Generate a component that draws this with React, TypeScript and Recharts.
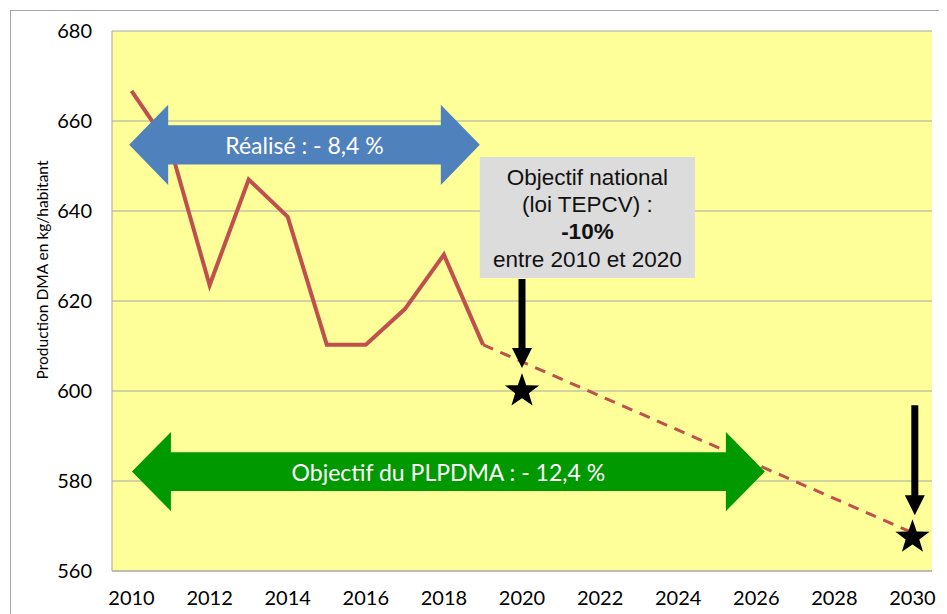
import { ComposedChart, Line, Scatter, XAxis, YAxis, CartesianGrid, ReferenceArea, ReferenceDot } from 'recharts';

// Production DMA (kg/habitant) – réalisé
const realiseYears = [2010, 2011, 2012, 2013, 2014, 2015, 2016, 2017, 2018, 2019];
const realiseValues = [666.7, 654, 623.5, 647, 638.7, 610.3, 610.3, 618.2, 630.3, 610.3];

// trajectoire vers l'objectif du PLPDMA
const projectionYears = [2019, 2030];
const projectionValues = [610.3, 568.5];

// objectifs (étoiles)
const objectifYears = [2020, 2030];
const objectifValues = [600, 567.5];

const xTicks = [2010, 2012, 2014, 2016, 2018, 2020, 2022, 2024, 2026, 2028, 2030];
const yTicks = [560, 580, 600, 620, 640, 660, 680];

const realiseData = realiseYears.map((year, i) => ({ year, value: realiseValues[i] }));
const projectionData = projectionYears.map((year, i) => ({ year, value: projectionValues[i] }));
const objectifData = objectifYears.map((year, i) => ({ year, value: objectifValues[i] }));

const LABEL_FONT = 'Lato, "Open Sans", sans-serif';

function doubleArrow(fill: string, text: string) {
    return (props: any) => {
        const { x, y, width, height } = props;
        const head = 39;
        const body = height * 0.49;
        const cy = y + height / 2;
        const pts = [
            [x, cy],
            [x + head, y],
            [x + head, cy - body / 2],
            [x + width - head, cy - body / 2],
            [x + width - head, y],
            [x + width, cy],
            [x + width - head, y + height],
            [x + width - head, cy + body / 2],
            [x + head, cy + body / 2],
            [x + head, y + height],
        ];
        return (
            <g>
                <polygon points={pts.map((p) => p.join(',')).join(' ')} fill={fill} />
                <text x={x + width / 2} y={cy} textAnchor="middle" dominantBaseline="central" fill="#fff" fontSize={23} fontFamily={LABEL_FONT}>
                    {text}
                </text>
            </g>
        );
    };
}

function noteBox(props: any) {
    const { x, y, width, height } = props;
    const cx = x + width / 2;
    const font = '"Liberation Sans", Arial, sans-serif';
    return (
        <g>
            <rect x={x} y={y} width={width} height={height} fill="#DCDCDC" />
            <text x={cx} y={y + 28} textAnchor="middle" fontSize={22.5} fontFamily={font} fill="#111">Objectif national</text>
            <text x={cx} y={y + 55} textAnchor="middle" fontSize={22.5} fontFamily={font} fill="#111">(loi TEPCV) :</text>
            <text x={cx} y={y + 82} textAnchor="middle" fontSize={22.5} fontFamily={font} fontWeight="bold" fill="#111">-10%</text>
            <text x={cx} y={y + 110} textAnchor="middle" fontSize={22.5} fontFamily={font} fill="#111">entre 2010 et 2020</text>
        </g>
    );
}

function downArrow(length: number) {
    return (props: any) => {
        const { cx, cy } = props;
        const pts = [
            [cx, cy],
            [cx - 10, cy - 20],
            [cx - 3.5, cy - 20],
            [cx - 3.5, cy - length],
            [cx + 3.5, cy - length],
            [cx + 3.5, cy - 20],
            [cx + 10, cy - 20],
        ];
        return <polygon points={pts.map((p) => p.join(',')).join(' ')} fill="#000" />;
    };
}

function star(props: any) {
    const { cx, cy } = props;
    const R = 18;
    const r = 7.2;
    const pts: string[] = [];
    for (let i = 0; i < 10; i++) {
        const rad = i % 2 === 0 ? R : r;
        const a = -Math.PI / 2 + (i * Math.PI) / 5;
        pts.push(`${cx + rad * Math.cos(a)},${cy + rad * Math.sin(a)}`);
    }
    return <polygon points={pts.join(' ')} fill="#000" />;
}

export default function App() {
    return (
        <div style={{ position: 'relative', width: 939, height: 606, overflow: 'hidden', background: '#fff' }}>
            <div style={{ position: 'absolute', left: 2, top: 2, width: 934, height: 700, border: '1px solid #A6A6A6' }} />
            <div style={{ position: 'absolute', left: 0, top: 0 }}>
                <ComposedChart width={939} height={606} margin={{ top: 23, right: 15, bottom: 13, left: 0 }}>
                    <CartesianGrid vertical={false} stroke="#A6A6A6" fill="#FFFF99" />
                    <XAxis
                        dataKey="year"
                        type="number"
                        domain={[2009.5, 2030.5]}
                        ticks={xTicks}
                        allowDataOverflow
                        height={30}
                        tickLine={false}
                        tickSize={0}
                        tickMargin={20}
                        axisLine={{ stroke: '#A6A6A6' }}
                        tick={{ fill: '#000', fontSize: 20, fontFamily: LABEL_FONT }}
                    />
                    <YAxis
                        type="number"
                        domain={[560, 680]}
                        ticks={yTicks}
                        width={104}
                        tickLine={false}
                        tickSize={0}
                        tickMargin={20}
                        axisLine={{ stroke: '#A6A6A6' }}
                        tick={{ fill: '#000', fontSize: 20, fontFamily: LABEL_FONT }}
                        label={{
                            content: () => (
                                <text x={34} y={262} transform="rotate(-90, 34, 262)" textAnchor="middle" dominantBaseline="central" fontSize={15.5} fontFamily={LABEL_FONT} fill="#000">
                                    Production DMA en kg/habitant
                                </text>
                            ),
                        }}
                    />
                    <Line
                        data={realiseData}
                        dataKey="value"
                        stroke="#C0504D"
                        strokeWidth={4}
                        dot={false}
                        activeDot={false}
                        isAnimationActive={false}
                    />
                    <Line
                        data={projectionData}
                        dataKey="value"
                        stroke="#C0504D"
                        strokeWidth={3}
                        strokeDasharray="11 8"
                        dot={false}
                        activeDot={false}
                        isAnimationActive={false}
                    />
                    <ReferenceArea x1={2009.94} x2={2018.92} y1={645.8} y2={663.6} shape={doubleArrow('#4F81BD', 'Réalisé : - 8,4 %')} zIndex={450} />
                    <ReferenceArea x1={2010.01} x2={2026.22} y1={573.3} y2={590.9} shape={doubleArrow('#009900', 'Objectif du PLPDMA : - 12,4 %')} zIndex={450} />
                    <ReferenceArea x1={2018.92} x2={2024.43} y1={625.1} y2={652} shape={noteBox} zIndex={450} />
                    <Scatter data={objectifData} dataKey="value" shape={star} isAnimationActive={false} zIndex={600} />
                    <ReferenceDot x={2020} y={605.1} r={0} shape={downArrow(89)} zIndex={700} />
                    <ReferenceDot x={2030.06} y={572.4} r={0} shape={downArrow(110)} zIndex={700} />
                </ComposedChart>
            </div>
        </div>
    );
}
